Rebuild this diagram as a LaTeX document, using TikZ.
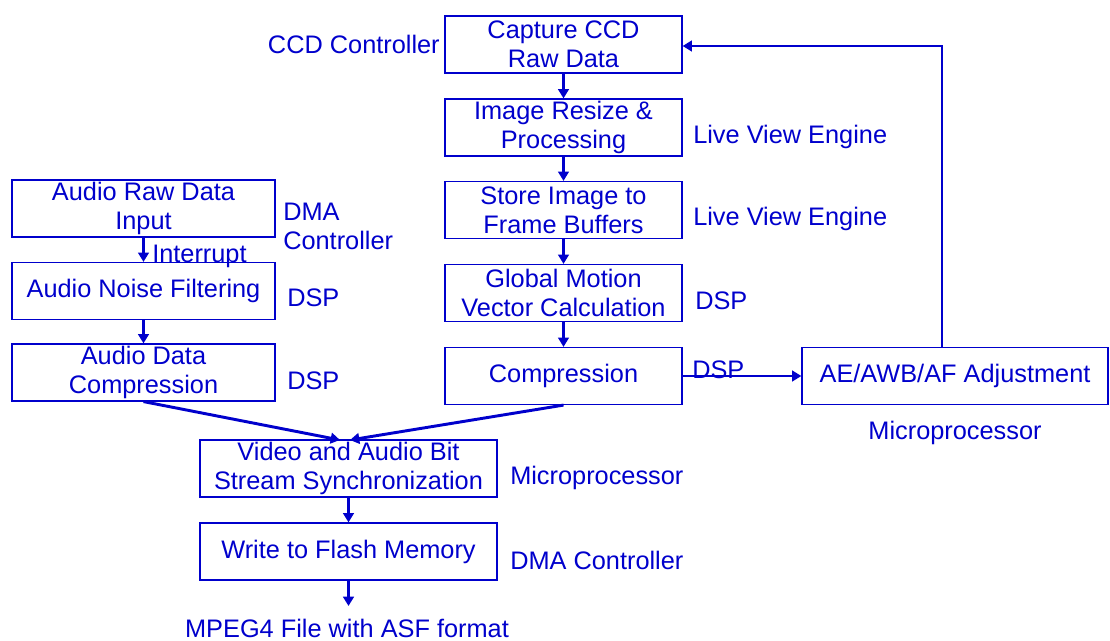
\documentclass[tikz,border=0pt]{standalone}
\usepackage{fontspec}
\setmainfont{Liberation Sans}
\usetikzlibrary{arrows.meta}
\definecolor{ink}{RGB}{0,0,204}
\begin{document}
\begin{tikzpicture}[x=0.75pt,y=-0.75pt,
  box/.style={draw=ink, line width=0.9pt, text=ink, align=center, inner sep=0pt,
    font=\fontsize{19}{21.5}\selectfont, minimum height=42.75pt},
  midbox/.style={box, minimum width=177.75pt},
  leftbox/.style={box, minimum width=197.25pt},
  botbox/.style={box, minimum width=222.75pt},
  lbl/.style={text=ink, inner sep=0pt, font=\fontsize{19}{21.5}\selectfont, align=left},
  arr/.style={draw=ink, line width=2.2pt, -{Triangle[width=8pt,length=7pt]}}]
\useasboundingbox (0,0) rectangle (1110,641);

% centre column
\node[midbox] (cap) at (563.5,44.5) {Capture CCD\\Raw Data};
\node[midbox] (resize) at (563.5,127.5) {Image Resize \&\\Processing};
\node[midbox] (store) at (563.5,210) {Store Image to\\Frame Buffers};
\node[midbox] (gm) at (563.5,293) {Global Motion\\Vector Calculation};
\node[midbox] (comp) at (563.5,376) {Compression};
\node[box, minimum width=229.5pt] (ae) at (955,376) {AE/AWB/AF Adjustment};

% left column
\node[leftbox] (araw) at (143.5,208.5) {Audio Raw Data\\Input};
\node[leftbox] (anoise) at (143.5,291) {Audio Noise Filtering};
\node[leftbox] (acomp) at (143.5,372.5) {Audio Data\\Compression};

% bottom
\node[botbox] (sync) at (348.5,468.5) {Video and Audio Bit\\Stream Synchronization};
\node[botbox] (flash) at (348.5,551.5) {Write to Flash Memory};
\node[lbl] (mpeg) at (347,628) {MPEG4 File with ASF format};

% labels
\node[lbl, anchor=east] (l1) at (440,44) {CCD Controller};
\node[lbl, anchor=west] (l2) at (693,137) {Live View Engine};
\node[lbl, anchor=west] (l3) at (693,219) {Live View Engine};
\node[lbl, anchor=west] (l4) at (695,301) {DSP};
\node[lbl, anchor=west] (l5) at (692,370) {DSP};
\node[lbl, anchor=north] (l6) at (955,421) {Microprocessor};
\node[lbl, anchor=west] (l7) at (283,226.5) {DMA\\Controller};
\node[lbl, anchor=base west] (intr) at (152,263) {Interrupt};
\node[lbl, anchor=west] (l8) at (287,298) {DSP};
\node[lbl, anchor=west] (l9) at (287,381) {DSP};
\node[lbl, anchor=west] (l10) at (510,478) {Microprocessor};
\node[lbl, anchor=west] (l11) at (510,560) {DMA Controller};

% connectors
\coordinate (fb) at (942,46);
\coordinate (in1) at (340,440);
\coordinate (in2) at (350,440);
\coordinate (out) at (348.5,606);
\draw[arr] (cap.south) -- (resize.north);
\draw[arr] (resize.south) -- (store.north);
\draw[arr] (store.south) -- (gm.north);
\draw[arr] (gm.south) -- (comp.north);
\draw[arr] (comp.east) -- (ae.west);
\draw[arr] (fb |- ae.north) -- (fb) -- (cap.east |- fb);
\draw[arr] (araw.south) -- (anoise.north);
\draw[arr] (anoise.south) -- (acomp.north);
\draw[arr] (acomp.south) -- (in1);
\draw[arr] (comp.south) -- (in2);
\draw[arr] (sync.south) -- (flash.north);
\draw[arr] (flash.south) -- (out);
\end{tikzpicture}
\end{document}
